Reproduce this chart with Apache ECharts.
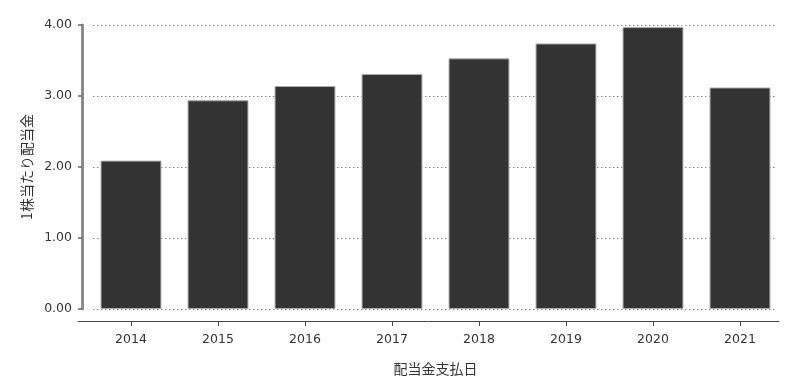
<!DOCTYPE html>
<html><head><meta charset="utf-8">
<script src="https://cdn.jsdelivr.net/npm/echarts@6/dist/echarts.min.js"></script>
<style>html,body{margin:0;padding:0;background:#fff}#c{width:800px;height:385px}</style>
</head><body><div id="c"></div>
<script>
const categories = ['2014','2015','2016','2017','2018','2019','2020','2021'];
const dividends = [2.09, 2.94, 3.14, 3.31, 3.53, 3.74, 3.97, 3.12];
const yTicks = [0, 1, 2, 3, 4];
const yName = '1株当たり配当金';
const xName = '配当金支払日';

const font = '"DejaVu Sans", "Noto Sans CJK JP", sans-serif';
const cjk = '"Noto Sans CJK JP", sans-serif';
const chart = echarts.init(document.getElementById('c'));
chart.setOption({
  animation: false,
  textStyle: { fontFamily: font },
  grid: [
    { left: 87.5, right: 16.5, top: 25, bottom: 76 },
    { left: 93, right: 24, top: 25, bottom: 76 },
    { left: 78, right: 21, top: 25, bottom: 76 }
  ],
  xAxis: [
    { type: 'category', gridIndex: 0, data: categories, offset: 12,
      axisLine: { show: true, onZero: false, lineStyle: { color: 'rgba(0,0,0,0)' } },
      axisTick: { show: true, alignWithLabel: true, length: 5, lineStyle: { color: '#444' } },
      axisLabel: { color: '#333', fontSize: 12.5, margin: 12, fontFamily: font },
      name: xName, nameLocation: 'middle', nameGap: 41,
      nameTextStyle: { color: '#333', fontSize: 14, fontFamily: cjk } },
    { type: 'value', gridIndex: 1, show: false },
    { type: 'value', gridIndex: 2, min: 0, max: 1, offset: 12,
      axisLine: { show: true, onZero: false, lineStyle: { color: '#444', width: 1 } },
      axisTick: { show: false }, axisLabel: { show: false }, splitLine: { show: false } }
  ],
  yAxis: [
    { type: 'value', gridIndex: 0, min: yTicks[0], max: yTicks[yTicks.length-1], interval: 1, offset: 5.5,
      axisLine: { show: true, onZero: false, lineStyle: { color: '#888', width: 2.5 } },
      axisTick: { show: true, length: 4, lineStyle: { color: '#666', width: 1.5 } },
      axisLabel: { color: '#333', fontSize: 12.5, margin: 10, fontFamily: font,
        formatter: v => v.toFixed(2) },
      splitLine: { show: false },
      name: yName, nameLocation: 'middle', nameGap: 39, nameRotate: 90,
      nameTextStyle: { color: '#333', fontSize: 14, fontFamily: cjk } },
    { type: 'value', gridIndex: 1, min: yTicks[0], max: yTicks[yTicks.length-1], interval: 1,
      axisLine: { show: false }, axisTick: { show: false }, axisLabel: { show: false },
      splitLine: { show: true, lineStyle: { color: '#888', type: [1.5, 2.5], width: 1 } } },
    { type: 'value', gridIndex: 2, min: 0, max: 1, offset: -4,
      axisLine: { show: true, onZero: false, lineStyle: { color: '#888', width: 2.5 } },
      axisTick: { show: false }, axisLabel: { show: false },
      splitLine: { show: false } }
  ],
  series: [{
    type: 'bar', xAxisIndex: 0, yAxisIndex: 0, data: dividends, barWidth: '70%',
    itemStyle: { color: '#333333', borderColor: '#aaaaaa', borderWidth: 1 },
    z: 3
  }]
});
</script></body></html>
